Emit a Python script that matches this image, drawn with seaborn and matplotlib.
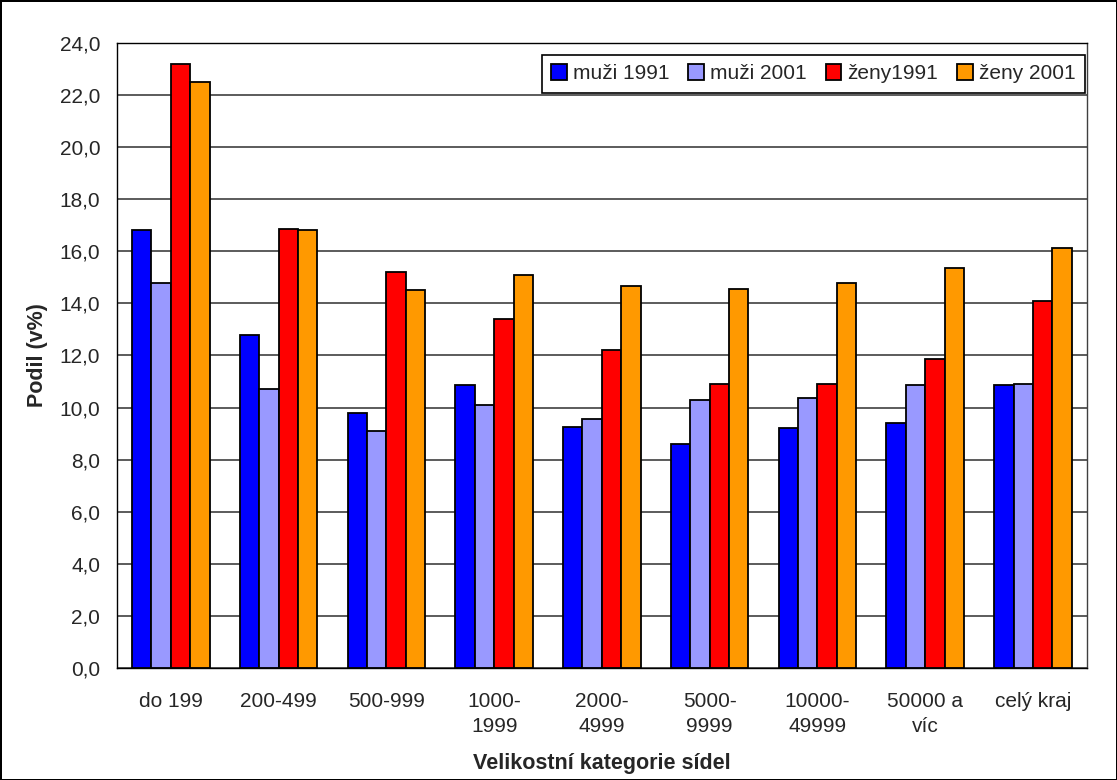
import pandas as pd
import numpy as np
import matplotlib
matplotlib.use('Agg')
import matplotlib.pyplot as plt
import seaborn as sns
from matplotlib.ticker import FuncFormatter, FixedLocator

categories = ['do 199', '200-499', '500-999', '1000-\n1999', '2000-\n4999',
              '5000-\n9999', '10000-\n49999', '50000 a\nvíc', 'celý kraj']
series_names = ['muži 1991', 'muži 2001', 'ženy1991', 'ženy 2001']
muzi_1991 = [16.8, 12.8, 9.8, 10.85, 9.25, 8.6, 9.2, 9.4, 10.86]
muzi_2001 = [14.8, 10.7, 9.1, 10.1, 9.55, 10.3, 10.35, 10.86, 10.9]
zeny_1991 = [23.2, 16.85, 15.2, 13.4, 12.2, 10.9, 10.9, 11.85, 14.1]
zeny_2001 = [22.5, 16.8, 14.5, 15.1, 14.67, 14.57, 14.77, 15.37, 16.13]
colors = ['#0000FF', '#9999FF', '#FF0000', '#FF9900']

frames = []
for name, vals in zip(series_names, [muzi_1991, muzi_2001, zeny_1991, zeny_2001]):
    frames.append(pd.DataFrame({'kategorie': categories, 'serie': name, 'podil': vals}))
df = pd.concat(frames, ignore_index=True)

sns.set_style('white')
plt.rcParams['font.family'] = ['Liberation Sans', 'DejaVu Sans']

fig = plt.figure(figsize=(11.17, 7.8), dpi=100, edgecolor='black', linewidth=2)
ax = fig.add_axes([0.1047, 0.1436, 0.8683, 0.8013])

sns.barplot(data=df, x='kategorie', y='podil', hue='serie', palette=colors,
            width=0.72, edgecolor='black', linewidth=1.3, saturation=1, ax=ax)

ax.set_ylim(0, 24)
ax.set_xlim(-0.5, len(categories) - 0.5)
ax.set_yticks(np.arange(0, 24.1, 2))
ax.yaxis.set_major_formatter(FuncFormatter(lambda v, p: f'{v:.1f}'.replace('.', ',')))
ax.yaxis.grid(True, color='#404040', linewidth=1.2)
ax.set_axisbelow(True)

ax.tick_params(axis='y', direction='inout', length=8, width=1, labelsize=15, pad=8)
ax.tick_params(axis='x', which='major', length=0, labelsize=15, pad=17)
ax.xaxis.set_minor_locator(FixedLocator(np.arange(-0.5, len(categories), 1)))
ax.tick_params(axis='x', which='minor', direction='out', length=6, width=1)
for lbl in ax.get_xticklabels():
    lbl.set_linespacing(1.45)

for side in ['left', 'bottom', 'right', 'top']:
    ax.spines[side].set_color('black')
    ax.spines[side].set_linewidth(1)
ax.spines['right'].set_color('#404040')

ax.set_xlabel('Velikostní kategorie sídel', fontsize=15.5, fontweight='bold', labelpad=12)
ax.set_ylabel('Podil (v%)', fontsize=15.5, fontweight='bold', labelpad=8)

leg = ax.legend(loc='upper right', bbox_to_anchor=(0.998, 0.981), borderaxespad=0,
                ncol=4, fontsize=15,
                frameon=True, fancybox=False, edgecolor='black', framealpha=1,
                handlelength=0.75, handleheight=0.75, handletextpad=0.3,
                columnspacing=0.9, borderpad=0.45, title=None)
leg.get_frame().set_linewidth(1.2)

fig.savefig('out.png', dpi=100, edgecolor=fig.get_edgecolor())
